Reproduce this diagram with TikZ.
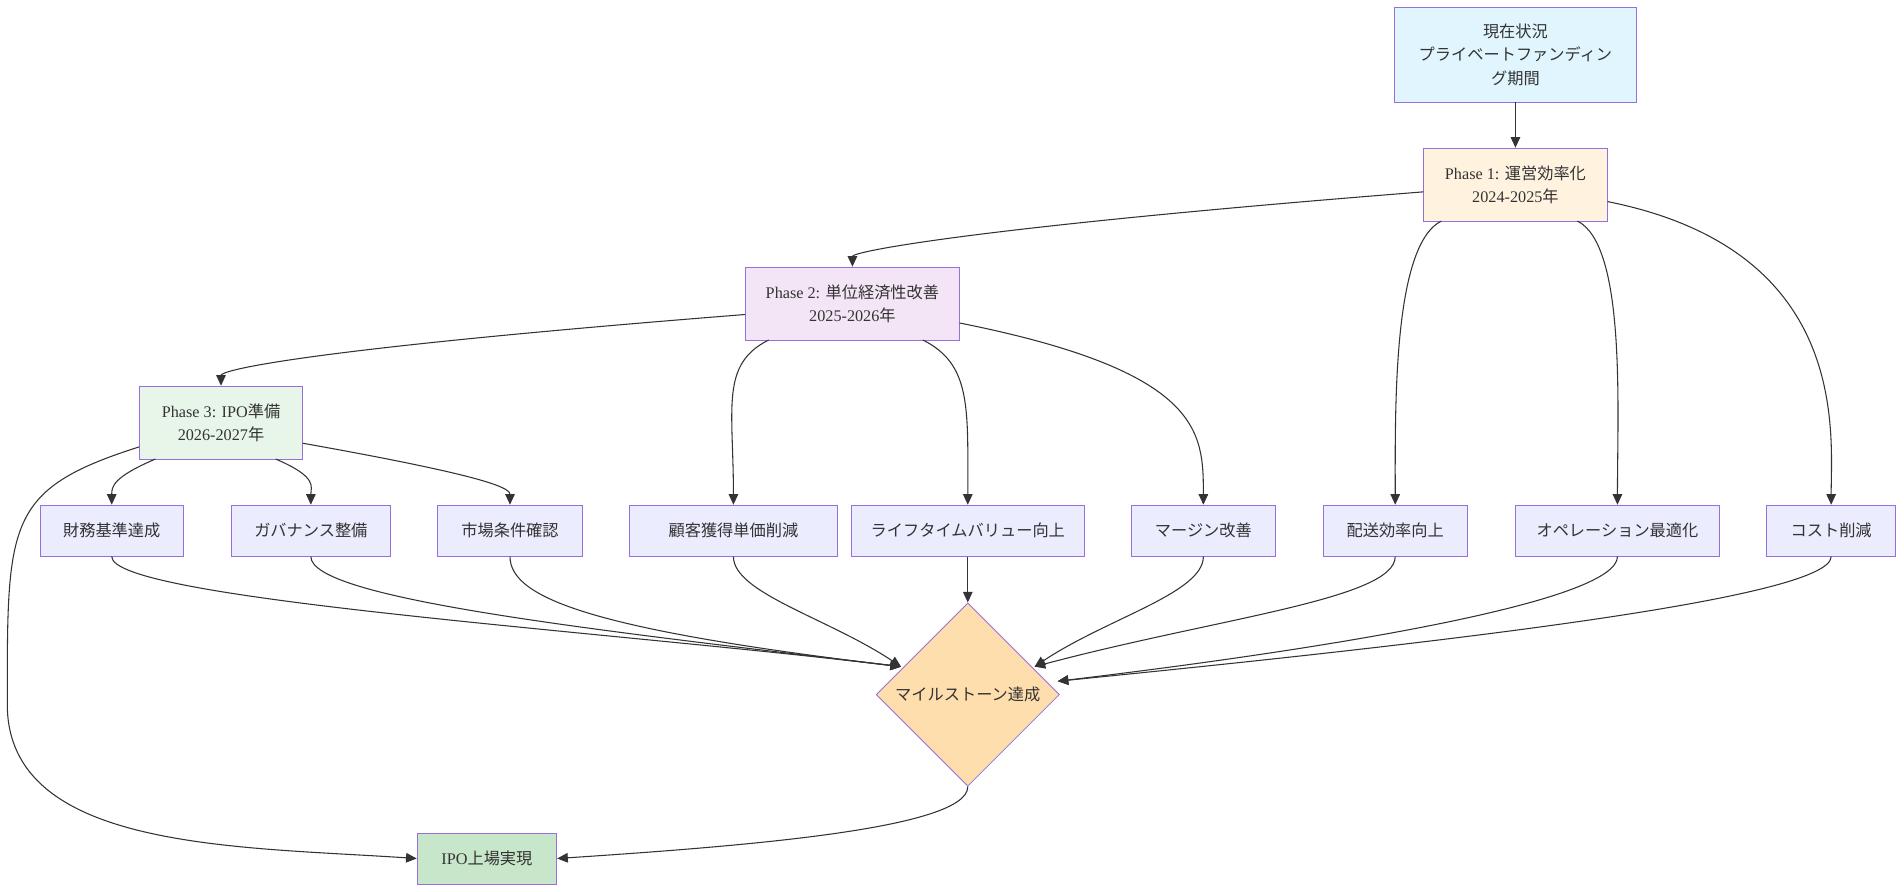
\documentclass[tikz,border=0pt]{standalone}
\usepackage{fontspec}
\setmainfont{Liberation Serif}
\newfontfamily\cjk{Noto Sans CJK JP}
\usetikzlibrary{shapes.geometric,arrows.meta}
\definecolor{mbord}{HTML}{9370DB}
\definecolor{mfill}{HTML}{ECECFF}
\definecolor{cnow}{HTML}{E1F5FE}
\definecolor{cpone}{HTML}{FFF3E0}
\definecolor{cptwo}{HTML}{F3E5F5}
\definecolor{cpthree}{HTML}{E8F5E9}
\definecolor{cdia}{HTML}{FFDEAD}
\definecolor{cipo}{HTML}{C8E6C9}
\definecolor{cline}{HTML}{333333}
\tikzset{
  box/.style={draw=mbord, fill=mfill, minimum height=0.84cm, inner sep=0pt,
    align=center, font=\fontsize{7.6}{11}\selectfont, text=cline},
  arr/.style={draw=cline, line width=0.5pt, -{Triangle[length=5pt,width=4.5pt]}},
}
\begin{document}
\begin{tikzpicture}[x=0.02cm,y=-0.02cm]
  \useasboundingbox (0,0) rectangle (1568,734);
  % phases
  \node[box, fill=cnow, minimum width=3.98cm, minimum height=1.56cm] (now) at (1248,45)
    {{\cjk 現在状況}\\{\cjk プライベートファンディン}\\{\cjk グ期間}};
  \node[box, fill=cpone, minimum width=3.02cm, minimum height=1.2cm] (pone) at (1248,152)
    {Phase 1: {\cjk 運営効率化}\\2024-2025{\cjk 年}};
  \node[box, fill=cptwo, minimum width=3.52cm, minimum height=1.2cm] (ptwo) at (702,250)
    {Phase 2: {\cjk 単位経済性改善}\\2025-2026{\cjk 年}};
  \node[box, fill=cpthree, minimum width=2.68cm, minimum height=1.2cm] (pthree) at (182,348)
    {Phase 3: IPO{\cjk 準備}\\2026-2027{\cjk 年}};
  % tasks
  \node[box, minimum width=2.36cm] (fin) at (92,437) {\cjk 財務基準達成};
  \node[box, minimum width=2.62cm] (gov) at (256,437) {\cjk ガバナンス整備};
  \node[box, minimum width=2.38cm] (mkt) at (420,437) {\cjk 市場条件確認};
  \node[box, minimum width=3.44cm] (cac) at (604,437) {\cjk 顧客獲得単価削減};
  \node[box, minimum width=3.84cm] (ltv) at (797,437) {\cjk ライフタイムバリュー向上};
  \node[box, minimum width=2.38cm] (mrg) at (991,437) {\cjk マージン改善};
  \node[box, minimum width=2.38cm] (dlv) at (1149,437) {\cjk 配送効率向上};
  \node[box, minimum width=3.36cm] (ops) at (1332,437) {\cjk オペレーション最適化};
  \node[box, minimum width=2.12cm] (cost) at (1508,437) {\cjk コスト削減};
  % goal
  \node[box, shape=diamond, fill=cdia, minimum width=3.02cm, minimum height=3.02cm, aspect=1] (ms) at (797,572) {\cjk マイルストーン達成};
  \node[box, fill=cipo, minimum width=2.3cm] (ipo) at (401,707) {IPO{\cjk 上場実現}};
  \coordinate (msl) at (742,549);
  \coordinate (msr) at (852,549);
  \coordinate (msr2) at (871,561);
  % edges
  \draw[arr] (now) -- (pone);
  \draw[arr] (pone.west|-0,158) .. controls +(-380,30) and +(0,-12) .. (ptwo.north);
  \draw[arr] (1187,182) .. controls +(-40,20) and +(0,-80) .. (dlv.north);
  \draw[arr] (1299,182) .. controls +(40,20) and +(0,-80) .. (ops.north);
  \draw[arr] (pone.east|-0,166) .. controls +(200,40) and +(0,-60) .. (cost.north);
  \draw[arr] (ptwo.west|-0,259) .. controls +(-380,30) and +(0,-12) .. (pthree.north);
  \draw[arr] (633,280) .. controls +(-40,20) and +(0,-80) .. (cac.north);
  \draw[arr] (760,280) .. controls +(40,20) and +(0,-80) .. (ltv.north);
  \draw[arr] (ptwo.east|-0,266) .. controls +(200,40) and +(0,-60) .. (mrg.north);
  \draw[arr] (128,378) .. controls +(-35,15) and +(0,-15) .. (fin.north);
  \draw[arr] (227,378) .. controls +(35,15) and +(0,-15) .. (gov.north);
  \draw[arr] (pthree.east|-0,365) .. controls +(140,25) and +(0,-15) .. (mkt.north);
  \draw[arr] (pthree.west|-0,368) .. controls +(-110,35) and +(0,-150) .. (6,580)
    .. controls +(0,120) and +(-150,-10) .. (ipo.west);
  \foreach \t in {fin,gov,mkt} {
    \draw[arr] (\t.south) .. controls +(0,35) and +(-250,-30) .. (msl);
  }
  \draw[arr] (cac.south) .. controls +(0,30) and +(-60,-40) .. (msl);
  \draw[arr] (ltv) -- (ms);
  \draw[arr] (mrg.south) .. controls +(0,30) and +(60,-40) .. (msr);
  \draw[arr] (dlv.south) .. controls +(0,35) and +(150,-40) .. (msr);
  \draw[arr] (ops.south) .. controls +(0,35) and +(250,-30) .. (msr2);
  \draw[arr] (cost.south) .. controls +(0,35) and +(300,-30) .. (msr2);
  \draw[arr] (ms.south) .. controls +(0,35) and +(150,-10) .. (ipo.east);
\end{tikzpicture}
\end{document}
